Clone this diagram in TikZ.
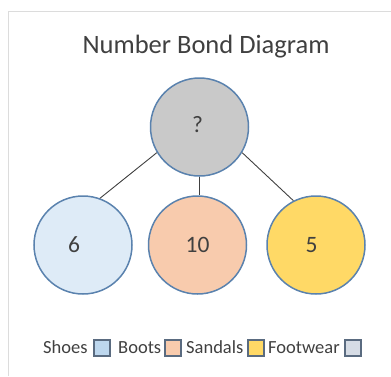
\documentclass[tikz,border=0pt]{standalone}
\usepackage{fontspec}
\setmainfont{Carlito}
\usepackage{tikz}

\definecolor{inkgray}{HTML}{404040}
\definecolor{rimblue}{HTML}{5A82AE}
\definecolor{keyrim}{HTML}{5A6B80}
\definecolor{framegray}{HTML}{DCDCDC}
\definecolor{shoefill}{HTML}{DEEBF7}
\definecolor{bootfill}{HTML}{F8CBAD}
\definecolor{sandalfill}{HTML}{FFD966}
\definecolor{totalfill}{HTML}{C9C9C9}
\definecolor{shoekey}{HTML}{BDD7EE}
\definecolor{totalkey}{HTML}{D6DCE5}

\begin{document}
\begin{tikzpicture}[x=1pt, y=-1pt,
    bond/.style={circle, draw=rimblue, line width=1.5pt, minimum size=98pt, inner sep=0pt},
    num/.style={text=inkgray, font=\fontsize{23.5}{27}\selectfont},
    key/.style={draw=keyrim, line width=2pt, minimum size=16pt, inner sep=0pt},
    keytext/.style={anchor=base west, inner sep=0pt, text=inkgray, font=\fontsize{18.5}{22}\selectfont}]
    \useasboundingbox (0,0) rectangle (391,376);

    % chart frame
    \draw[framegray, line width=1pt] (8,376) -- (8,11) -- (391,11);

    \node[anchor=base, text=inkgray, font=\fontsize{26.5}{30}\selectfont] (title) at (206,53) {Number Bond Diagram};

    % the whole and its parts
    \node[bond, fill=totalfill, label={[num, xshift=-2pt, yshift=2pt]center:?}] (total) at (199.5,127) {};
    \node[bond, fill=shoefill, label={[num, xshift=-9pt]center:6}] (shoes) at (83,245) {};
    \node[bond, fill=bootfill, label={[num]center:10}] (boots) at (197.5,245) {};
    \node[bond, fill=sandalfill, label={[num, xshift=-4.5pt]center:5}] (sandals) at (316,245) {};

    \draw[inkgray, line width=0.9pt] (total.211) -- (shoes.70);
    \draw[inkgray, line width=0.9pt] (total.south) -- (total.south |- boots.north);
    \draw[inkgray, line width=0.9pt] (total.329) -- (sandals.117);

    % legend
    \node[keytext] (shoetext) at (43,353) {Shoes};
    \node[key, fill=shoekey] (shoebox) at (101.5,347.5) {};
    \node[keytext] (boottext) at (118,353) {Boots};
    \node[key, fill=bootfill] (bootbox) at (172.5,347.5) {};
    \node[keytext] (sandaltext) at (186,353) {Sandals};
    \node[key, fill=sandalfill] (sandalbox) at (256,347.5) {};
    \node[keytext] (totaltext) at (268,353) {Footwear};
    \node[key, fill=totalkey] (totalbox) at (353,347.5) {};
\end{tikzpicture}
\end{document}
